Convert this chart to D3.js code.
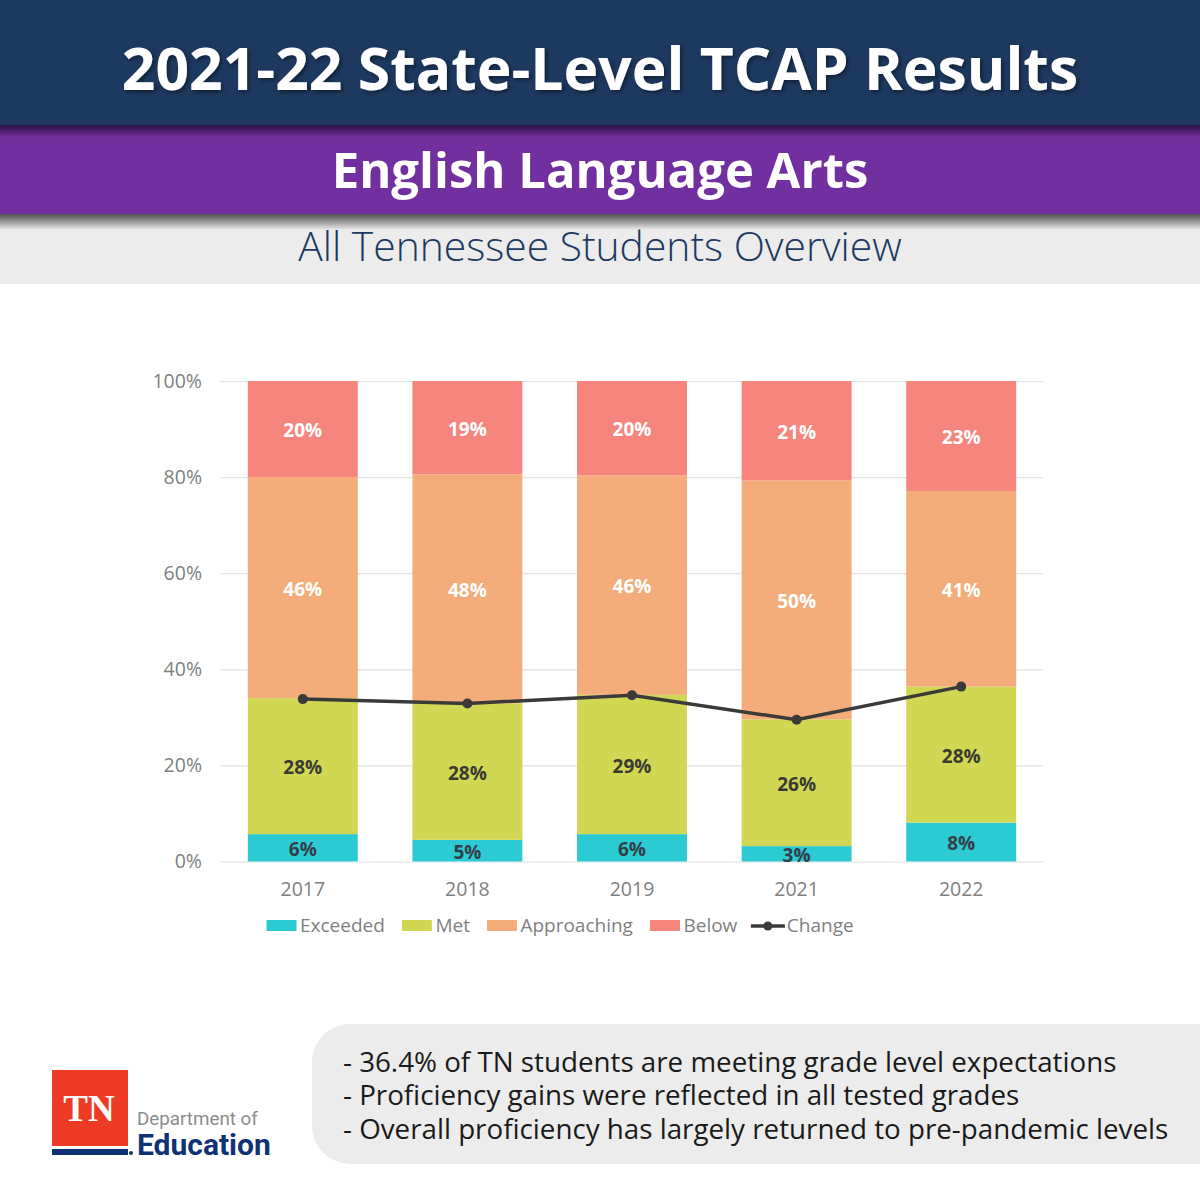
<!DOCTYPE html>
<html>
<head>
<meta charset="utf-8">
<title>2021-22 State-Level TCAP Results</title>
<script src="https://cdn.jsdelivr.net/npm/d3@7"></script>
<style>
html, body { margin: 0; padding: 0; background: #fff; }
svg { display: block; }
text { font-family: "Open Sans", sans-serif; }
</style>
</head>
<body>
<svg id="chart" width="1200" height="1200"></svg>
<script>
var years = ['2017', '2018', '2019', '2021', '2022'];
var exceeded = [5.7, 4.5, 5.7, 3.2, 8.1];
var met = [28.3, 28.4, 29.0, 26.4, 28.3];
var approaching = [46.0, 47.7, 45.7, 49.7, 40.7];
var below = [20.0, 19.4, 19.6, 20.7, 22.9];
var change = [33.8, 32.9, 34.6, 29.5, 36.4];
var yTicks = [0, 20, 40, 60, 80, 100];
var bullets = [
    '- 36.4% of TN students are meeting grade level expectations',
    '- Proficiency gains were reflected in all tested grades',
    '- Overall proficiency has largely returned to pre-pandemic levels'
];

var svg = d3.select('#chart');
var defs = svg.append('defs');

function shadowGradient(id, color){
    var g = defs.append('linearGradient').attr('id', id)
        .attr('x1', 0).attr('x2', 0).attr('y1', 0).attr('y2', 1);
    g.append('stop').attr('offset', 0).attr('stop-color', color).attr('stop-opacity', 0.85);
    g.append('stop').attr('offset', 1).attr('stop-color', color).attr('stop-opacity', 0);
}
shadowGradient('shadeDark', '#1c0c30');
shadowGradient('shadeGrey', '#333333');

var blur = defs.append('filter').attr('id', 'textShadow')
    .attr('x', '-5%').attr('y', '-20%').attr('width', '110%').attr('height', '150%');
blur.append('feDropShadow').attr('dx', 2).attr('dy', 2).attr('stdDeviation', 2)
    .attr('flood-color', '#000').attr('flood-opacity', 0.45);

// header bands
svg.append('rect').attr('x', 0).attr('y', 216).attr('width', 1200).attr('height', 68).attr('fill', '#ececec');
svg.append('rect').attr('x', 0).attr('y', 214).attr('width', 1200).attr('height', 16).attr('fill', 'url(#shadeGrey)');
svg.append('rect').attr('x', 0).attr('y', 125).attr('width', 1200).attr('height', 89).attr('fill', '#722f9f');
svg.append('rect').attr('x', 0).attr('y', 125).attr('width', 1200).attr('height', 12).attr('fill', 'url(#shadeDark)');
svg.append('rect').attr('x', 0).attr('y', 0).attr('width', 1200).attr('height', 125).attr('fill', '#1d3960');

svg.append('text').attr('x', 600).attr('y', 90).attr('text-anchor', 'middle')
    .attr('font-size', 58.8).attr('font-weight', 700).attr('fill', '#fff')
    .attr('filter', 'url(#textShadow)').text('2021-22 State-Level TCAP Results');
svg.append('text').attr('x', 600).attr('y', 188).attr('text-anchor', 'middle')
    .attr('font-size', 49).attr('font-weight', 700).attr('fill', '#fff').text('English Language Arts');
svg.append('text').attr('x', 600).attr('y', 261).attr('text-anchor', 'middle')
    .attr('font-size', 40.8).attr('font-weight', 300).attr('fill', '#1d3960').text('All Tennessee Students Overview');

// chart
var x = d3.scaleBand().domain(years).range([220.5, 1043.5]).paddingInner(0.332).paddingOuter(0.166);
var y = d3.scaleLinear().domain([0, 100]).range([861.5, 381]);

var yAxis = svg.append('g').attr('transform', 'translate(220,0)')
    .call(d3.axisLeft(y).tickValues(yTicks).tickSize(-823).tickPadding(18).tickFormat(function(d){ return d + '%'; }));
yAxis.select('.domain').remove();
yAxis.selectAll('.tick line').attr('stroke', '#e2e2e2').attr('stroke-width', 1.2);
yAxis.selectAll('.tick text').attr('font-size', 19.5).attr('fill', '#7f7f7f').attr('font-family', '"Open Sans", sans-serif');

var xAxis = svg.append('g').attr('transform', 'translate(0,861.5)')
    .call(d3.axisBottom(x).tickSize(0).tickPadding(21));
xAxis.select('.domain').remove();
xAxis.selectAll('.tick text').attr('font-size', 19.5).attr('fill', '#7f7f7f').attr('font-family', '"Open Sans", sans-serif');

var seriesList = [
    {name: 'Exceeded', values: exceeded, color: '#2ccbd4', label: '#333f48'},
    {name: 'Met', values: met, color: '#d2d753', label: '#3a3a32'},
    {name: 'Approaching', values: approaching, color: '#f3ac7a', label: '#fff'},
    {name: 'Below', values: below, color: '#f6857d', label: '#fff'}
];

var rows = years.map(function(d, i){
    var row = {year: d};
    seriesList.forEach(function(s){ row[s.name] = s.values[i]; });
    return row;
});
var stacked = d3.stack().keys(seriesList.map(function(s){ return s.name; }))(rows);

stacked.forEach(function(layer, k){
    var s = seriesList[k];
    var g = svg.append('g').attr('class', 'series');
    g.selectAll('rect').data(layer).enter().append('rect')
        .attr('x', function(d){ return x(d.data.year); })
        .attr('width', x.bandwidth())
        .attr('y', function(d){ return y(d[1]); })
        .attr('height', function(d){ return y(d[0]) - y(d[1]); })
        .attr('fill', s.color);
    g.selectAll('text').data(layer).enter().append('text')
        .attr('x', function(d){ return x(d.data.year) + x.bandwidth() / 2; })
        .attr('y', function(d){ return y((d[0] + d[1]) / 2) + 1.5; })
        .attr('dy', '0.35em')
        .attr('text-anchor', 'middle')
        .attr('font-size', 19).attr('font-weight', 700)
        .attr('fill', s.label)
        .text(function(d){ return Math.round(d[1] - d[0]) + '%'; });
});

var line = d3.line()
    .x(function(d, i){ return x(years[i]) + x.bandwidth() / 2; })
    .y(function(d){ return y(d); });
svg.append('path').datum(change).attr('d', line)
    .attr('fill', 'none').attr('stroke', '#3a3a3a').attr('stroke-width', 3.5);
svg.append('g').selectAll('circle').data(change).enter().append('circle')
    .attr('cx', function(d, i){ return x(years[i]) + x.bandwidth() / 2; })
    .attr('cy', function(d){ return y(d); })
    .attr('r', 5).attr('fill', '#3a3a3a');

// legend, laid out from the measured label widths
var legend = svg.append('g').attr('class', 'legend');
var legendX = 266.5, legendY = 925;
seriesList.concat([{name: 'Change', line: true}]).forEach(function(s){
    var swatchW = s.line ? 34 : 30;
    if (s.line){
        legendX -= 3.5;
        legend.append('line').attr('x1', legendX).attr('x2', legendX + swatchW)
            .attr('y1', legendY + 1).attr('y2', legendY + 1).attr('stroke', '#3a3a3a').attr('stroke-width', 3.5);
        legend.append('circle').attr('cx', legendX + swatchW / 2).attr('cy', legendY + 1).attr('r', 4.5).attr('fill', '#3a3a3a');
    } else {
        legend.append('rect').attr('x', legendX).attr('y', legendY - 5).attr('width', swatchW).attr('height', 11).attr('fill', s.color);
    }
    var t = legend.append('text').attr('x', legendX + swatchW + (s.line ? 2 : 3.5)).attr('y', legendY).attr('dy', '0.35em')
        .attr('font-size', 19).attr('fill', '#7f7f7f').text(s.name);
    legendX += swatchW + 3.5 + t.node().getComputedTextLength() + 17;
});

// note box
svg.append('rect').attr('x', 312).attr('y', 1024).attr('width', 950).attr('height', 140).attr('rx', 38).attr('fill', '#ececec');
svg.append('g').selectAll('text').data(bullets).enter().append('text')
    .attr('x', 343)
    .attr('y', function(d, i){ return 1071.5 + i * 33.5; })
    .attr('font-size', 27.75).attr('fill', '#1a1a1a')
    .text(function(d){ return d; });

// logo
var logo = svg.append('g').attr('class', 'logo');
logo.append('rect').attr('x', 52).attr('y', 1070).attr('width', 76).attr('height', 76).attr('fill', '#ee3b25');
logo.append('rect').attr('x', 52).attr('y', 1149).attr('width', 76).attr('height', 6).attr('fill', '#0f3275');
logo.append('circle').attr('cx', 131).attr('cy', 1153).attr('r', 2).attr('fill', '#0f3275');
logo.append('text').attr('x', 89).attr('y', 1121).attr('text-anchor', 'middle')
    .attr('font-size', 37).attr('font-weight', 700).attr('fill', '#fff')
    .style('font-family', '"Liberation Serif", serif').text('TN');
logo.append('text').attr('x', 137).attr('y', 1125)
    .attr('font-size', 18.8).attr('fill', '#8c8c8c').style('font-family', 'Roboto, sans-serif').text('Department of');
logo.append('text').attr('x', 137).attr('y', 1155)
    .attr('font-size', 30).attr('font-weight', 700).attr('fill', '#0f3275').style('font-family', 'Roboto, sans-serif').text('Education');
</script>
</body>
</html>
